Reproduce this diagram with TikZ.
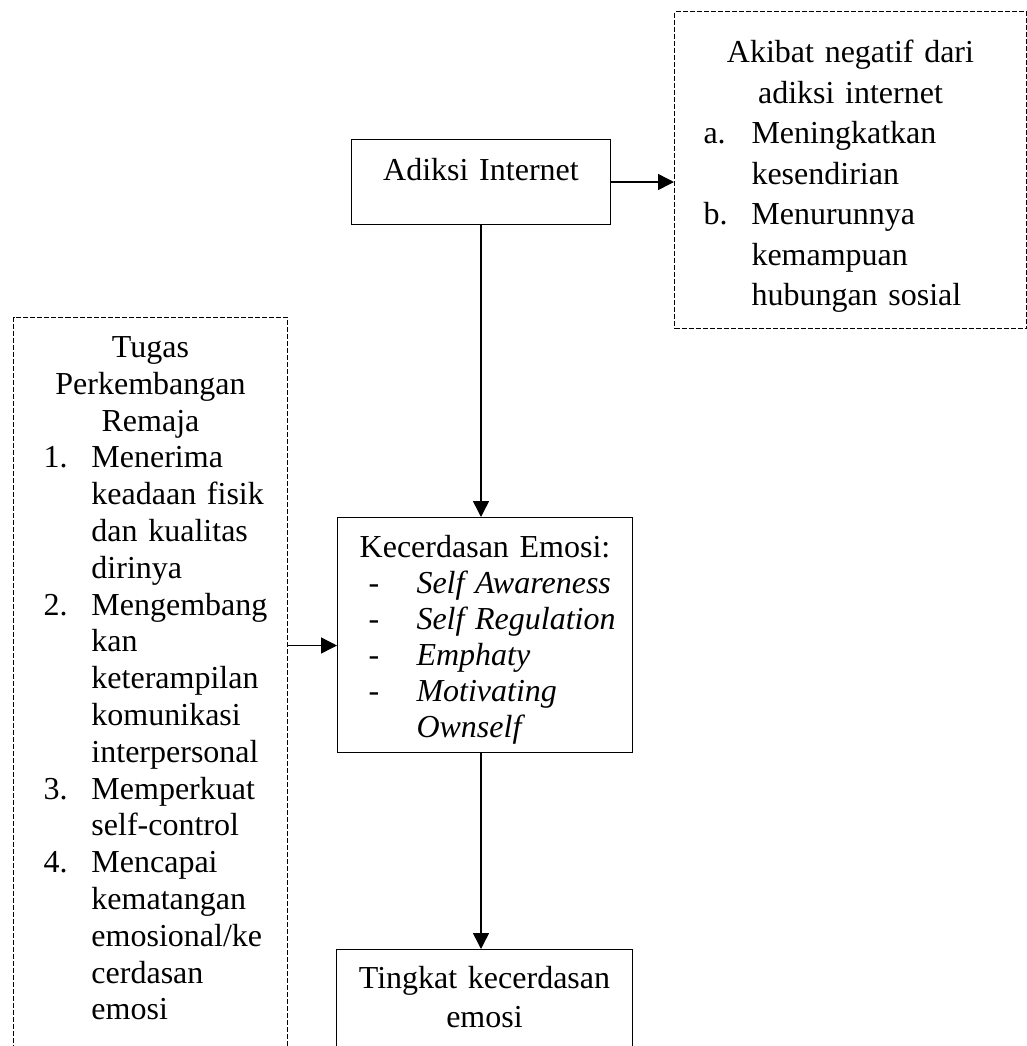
\documentclass[tikz,border=0pt]{standalone}
\usepackage{fontspec}
\setmainfont{Liberation Serif}
\usetikzlibrary{arrows.meta}

\newcommand{\itm}[1]{\makebox[24pt][l]{#1}}
\newcommand{\lanjut}{\hspace*{24pt}}
\newcommand{\judul}[1]{\makebox[\linewidth]{#1}}
\newcommand{\isi}{\rightskip=0pt minus 100pt\relax\hyphenpenalty=10000\relax}

\tikzset{
    kotak/.style={draw, line width=0.5pt, inner ysep=0pt, anchor=north west,
        font=\fontsize{16pt}{18.4pt}\selectfont},
    putus/.style={kotak, dash pattern=on 2.5pt off 1pt},
    panah/.style={-{Triangle[length=8pt,width=8pt]}, line width=0.75pt}
}

\begin{document}
\begin{tikzpicture}[x=0.5pt, y=-0.5pt]
    \path[use as bounding box, clip] (0,0) rectangle (1027,1046);

    % kotak utama
    \node[kotak, inner xsep=0pt, text width=129.5pt, text height=20.5pt, text depth=22pt] (adiksi) at (351,139) {%
        \isi\judul{Adiksi Internet}};
    \node[putus, font=\fontsize{16pt}{20.25pt}\selectfont, inner xsep=14.5pt, text width=147pt,
        text height=25.5pt, text depth=133pt] (akibat) at (674,11) {%
        \isi\judul{Akibat negatif dari}\\
        \judul{adiksi internet}\\
        \itm{a.}Meningkatkan\\
        \lanjut kesendirian\\
        \itm{b.}Menurunnya\\
        \lanjut kemampuan\\
        \lanjut hubungan sosial%
    };
    \node[putus, inner xsep=15pt, text width=107pt, text height=20pt, text depth=371.5pt] (tugas) at (13,317) {%
        \isi\judul{Tugas}\\
        \judul{Perkembangan}\\
        \judul{Remaja}\\
        \itm{1.}Menerima\\
        \lanjut keadaan fisik\\
        \lanjut dan kualitas\\
        \lanjut dirinya\\
        \itm{2.}Mengembang\\
        \lanjut kan\\
        \lanjut keterampilan\\
        \lanjut komunikasi\\
        \lanjut interpersonal\\
        \itm{3.}Memperkuat\\
        \lanjut self-control\\
        \itm{4.}Mencapai\\
        \lanjut kematangan\\
        \lanjut emosional/ke\\
        \lanjut cerdasan\\
        \lanjut emosi%
    };
    \node[kotak, font=\fontsize{16pt}{18pt}\selectfont, inner xsep=15.5pt, text width=116.5pt,
        text height=20pt, text depth=97.5pt] (kecerdasan) at (337,517) {%
        \isi\judul{Kecerdasan Emosi:}\\
        \itm{-}\textit{Self Awareness}\\
        \itm{-}\textit{Self Regulation}\\
        \itm{-}\textit{Emphaty}\\
        \itm{-}\textit{Motivating}\\
        \lanjut\textit{Ownself}%
    };
    \node[kotak, font=\fontsize{16pt}{19.5pt}\selectfont, inner xsep=0pt, text width=148pt,
        text height=19.5pt, text depth=56pt] (tingkat) at (336,949) {%
        \isi\judul{Tingkat kecerdasan}\\
        \judul{emosi}};

    % panah
    \draw[panah] (adiksi.east) -- (adiksi.east -| akibat.west);
    \draw[panah] (adiksi.south) -- (adiksi.south |- kecerdasan.north);
    \path ([yshift=-5.25pt]kecerdasan.west) coordinate (masuk);
    \draw[panah] (masuk -| tugas.east) -- (masuk);
    \draw[panah] (kecerdasan.south -| adiksi.south) -- (adiksi.south |- tingkat.north);
\end{tikzpicture}
\end{document}
